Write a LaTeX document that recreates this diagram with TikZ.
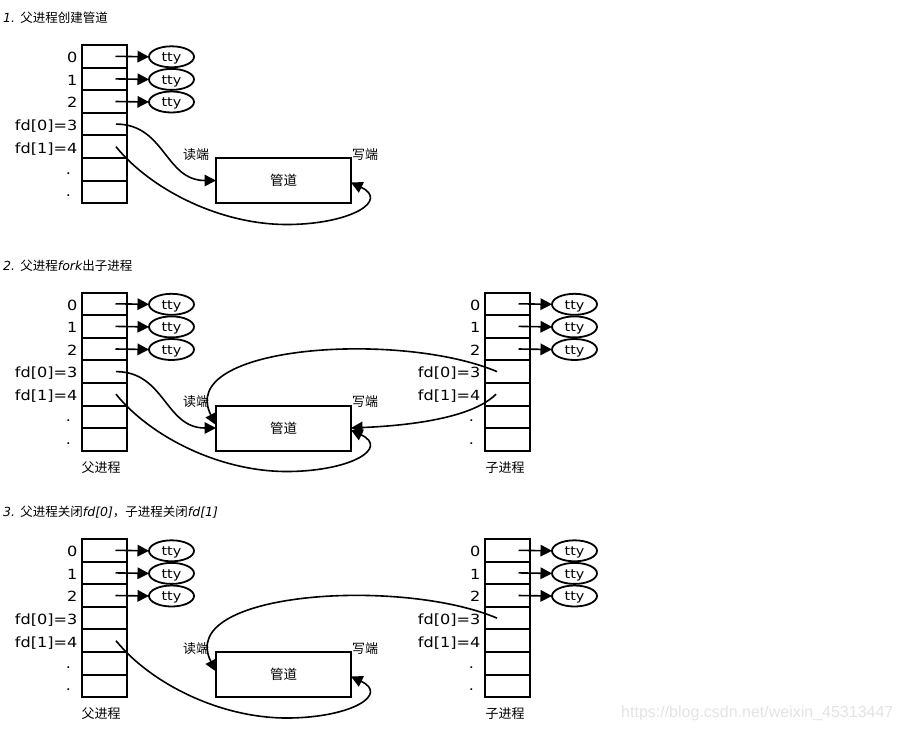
\documentclass[tikz,border=0pt]{standalone}
\usepackage{fontspec}
\setmainfont{DejaVu Sans}
\newfontfamily\cjk{Noto Sans CJK SC}
\newfontfamily\labfont[FakeStretch=1.15]{DejaVu Sans}
\newfontfamily\wmfont{Liberation Sans}
\usetikzlibrary{arrows.meta,shapes.geometric}

\tikzset{
  cell/.style={draw, line width=2pt, minimum width=44.5pt, minimum height=22.6pt,
    inner sep=0pt, outer sep=0pt, anchor=north west},
  lab/.style={anchor=base east, inner sep=0pt, font=\labfont\fontsize{14}{14}\selectfont},
  dotlab/.style={anchor=base, inner sep=0pt, font=\labfont\fontsize{14}{14}\selectfont},
  tty/.style={draw, ellipse, line width=1.8pt, minimum width=45pt, minimum height=21pt,
    inner sep=0pt, outer sep=0pt, text height=11pt, text depth=1.5pt,
    font=\labfont\fontsize{12.5}{12.5}\selectfont},
  arr/.style={line width=1.6pt, -{Triangle[length=11.5pt,width=11.5pt]}},
  pipebox/.style={draw, line width=2pt, minimum width=135pt, minimum height=45pt,
    inner sep=0pt, outer sep=0pt, font=\cjk\fontsize{13.5}{14}\selectfont},
  cjklab/.style={inner sep=0pt, font=\cjk\fontsize{13}{14}\selectfont},
  titlelab/.style={anchor=west, inner sep=0pt, font=\fontsize{12.5}{14}\selectfont},
}

\newcommand{\fdtab}[3]{%
  \foreach \i/\lab in {0/0,1/1,2/2,3/{fd[0]=3},4/{fd[1]=4}}{%
    \node[cell] (#1c\i) at (#2,{#3+22.6*\i}) {};
    \node[lab] (#1l\i) at ([xshift=-4.5pt,yshift=-6.3pt]#1c\i.west) {\lab};
  }
  \foreach \i in {5,6}{%
    \node[cell] (#1c\i) at (#2,{#3+22.6*\i}) {};
    \node[dotlab] (#1l\i) at ([xshift=-13.5pt,yshift=-5pt]#1c\i.west) {.};
  }
  \foreach \i in {0,1,2}{%
    \node[tty] (#1t\i) at ([xshift=45pt,yshift=-0.5pt]#1c\i.east) {tty};
    \draw[arr] ([xshift=-11pt]#1c\i.east) -- (#1t\i.west);
  }
}

\begin{document}
\begin{tikzpicture}[x=1pt,y=-1pt]
\useasboundingbox (0,0) rectangle (904,731);

% ---------- titles ----------
\node[titlelab] (T1) at (3,18) {{\itshape 1.} {\cjk 父进程创建管道}};
\node[titlelab] (T2) at (3,266) {{\itshape 2.} {\cjk 父进程}{\itshape fork}{\cjk 出子进程}};
\node[titlelab] (T3) at (3,512.5) {{\itshape 3.} {\cjk 父进程关闭}{\itshape fd[0]}{\cjk ，子进程关闭}{\itshape fd[1]}};

% ---------- panel 1 ----------
\fdtab{A}{82}{45}
\node[pipebox] (Ap) at (283.5,180.5) {管道};
\node[cjklab] (Ar) at ([xshift=-20pt,yshift=3.5pt]Ap.north west) {读端};
\node[cjklab] (Aw) at ([xshift=14pt,yshift=3.5pt]Ap.north east) {写端};
\draw[arr] ([xshift=-10.5pt]Ac3.east) .. controls +(49,0) and +(-51,0) .. (Ap.west);
\coordinate (Alow) at (290,224.5);
\draw[arr] ([xshift=-10.5pt]Ac4.east) .. controls +(34,42) and +(-70,1) .. (Alow)
  .. controls +(62,-1) and +(38,18) .. ([yshift=-2pt]Ap.east);

% ---------- panel 2 ----------
\fdtab{B}{82}{292.5}
\fdtab{C}{485}{292.5}
\node[pipebox] (Bp) at (283.5,428) {管道};
\node[cjklab] (Br) at ([xshift=-20pt,yshift=3.5pt]Bp.north west) {读端};
\node[cjklab] (Bw) at ([xshift=14pt,yshift=3.5pt]Bp.north east) {写端};
\node[cjklab] (Bn) at (101,468) {父进程};
\node[cjklab] (Cn) at (505,468) {子进程};
\draw[arr] ([xshift=-10.5pt]Bc3.east) .. controls +(49,0) and +(-51,0) .. (Bp.west);
\coordinate (Blow) at (290,471.5);
\draw[arr] ([xshift=-10.5pt]Bc4.east) .. controls +(34,42) and +(-70,1) .. (Blow)
  .. controls +(62,-1) and +(38,18) .. ([yshift=-2pt]Bp.east);
\draw[arr] ([xshift=12pt]Cc3.west) .. controls +(-97,-41) and +(-41,-80) .. ([yshift=3pt]Bp.west);
\draw[arr] ([xshift=11pt]Cc4.west) .. controls +(-26,26) and +(48,-2) .. (Bp.east);

% ---------- panel 3 ----------
\fdtab{D}{82}{539}
\fdtab{E}{485}{539}
\node[pipebox] (Dp) at (283.5,674.5) {管道};
\node[cjklab] (Dr) at ([xshift=-20pt,yshift=3.5pt]Dp.north west) {读端};
\node[cjklab] (Dw) at ([xshift=14pt,yshift=3.5pt]Dp.north east) {写端};
\node[cjklab] (Dn) at (101,714) {父进程};
\node[cjklab] (En) at (505,714) {子进程};
\coordinate (Dlow) at (290,718);
\draw[arr] ([xshift=-10.5pt]Dc4.east) .. controls +(34,42) and +(-70,1) .. (Dlow)
  .. controls +(62,-1) and +(38,18) .. ([yshift=-2pt]Dp.east);
\draw[arr] ([xshift=12pt]Ec3.west) .. controls +(-97,-41) and +(-41,-80) .. ([yshift=3pt]Dp.west);

% ---------- watermark ----------
\node[anchor=west, inner sep=0pt, text=black!11, font=\wmfont\fontsize{16}{16}\selectfont]
  (wm) at (621,713) {https://blog.csdn.net/weixin\_45313447};
\end{tikzpicture}
\end{document}
